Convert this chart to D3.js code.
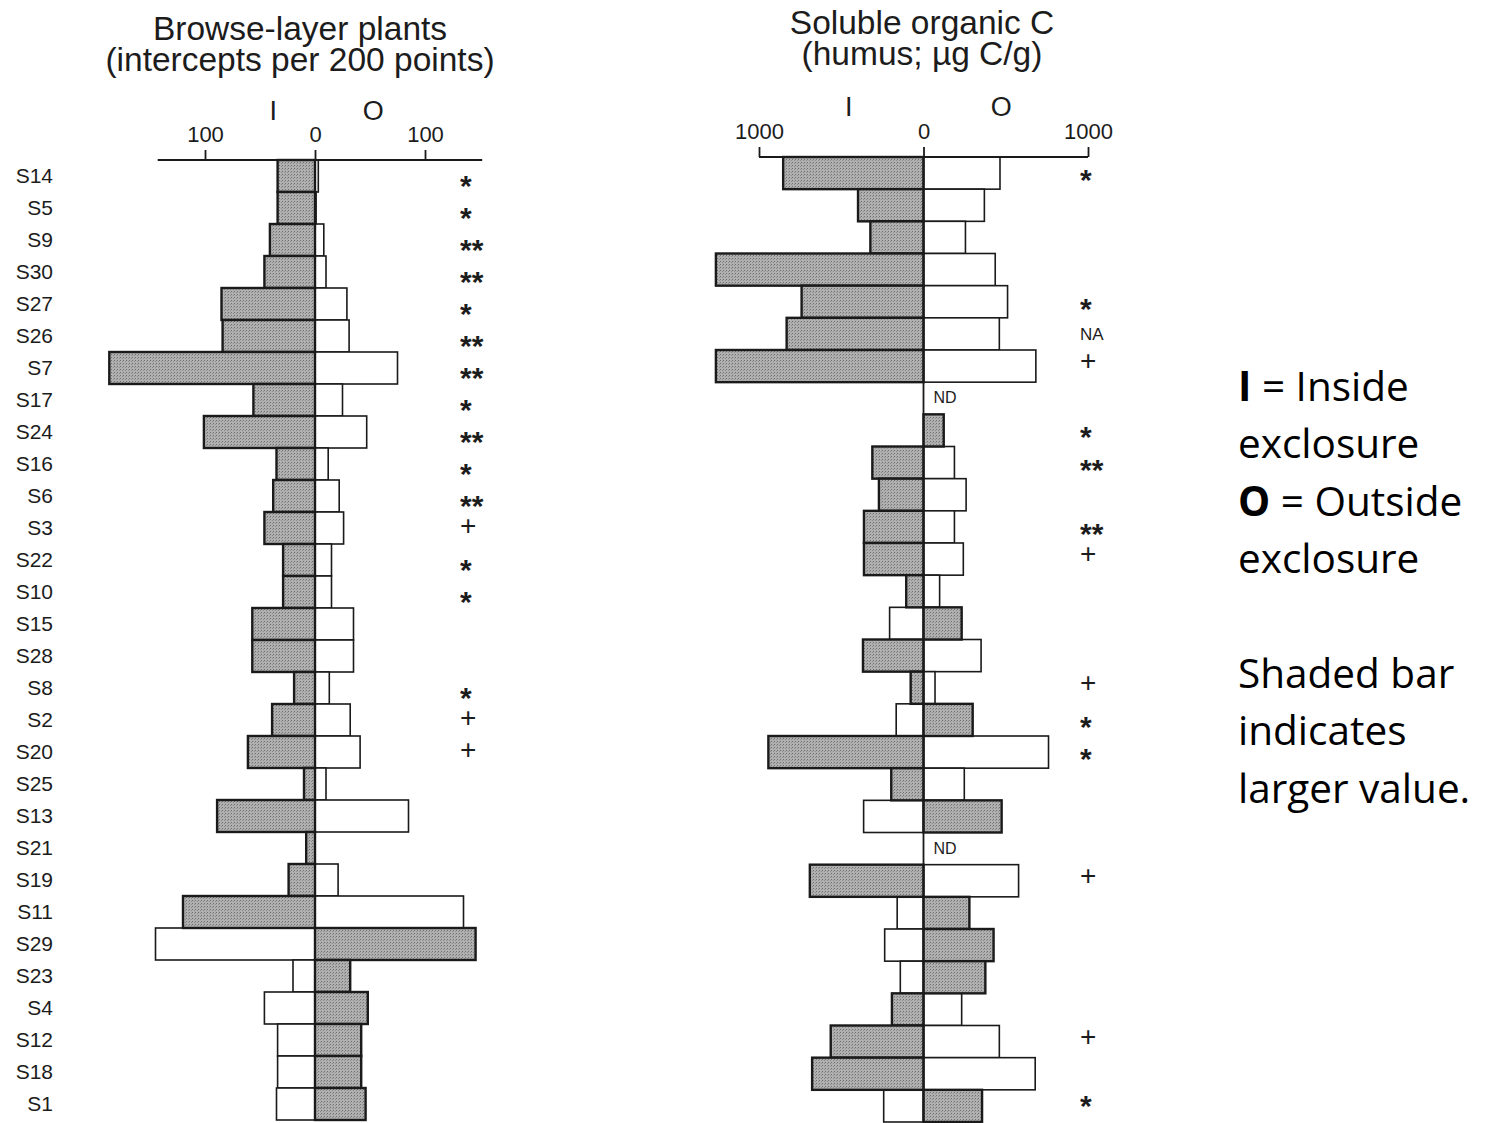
<!DOCTYPE html>
<html lang="en">
<head>
    <meta charset="UTF-8">
    <title>Exclosure comparison</title>
    <script src="https://d3js.org/d3.v7.min.js"></script>
    <style>
        body { margin: 0; background: #fff; }
        svg { display: block; }
        .lbl { font-family: "Liberation Sans", Arial, sans-serif; fill: #1c1c1c; }
        .legend { font-family: "Open Sans", sans-serif; fill: #000; }
    </style>
</head>
<body>
<svg id="chart" width="1490" height="1123"></svg>
<script>
    // Sites, top to bottom
    const sites = ["S14","S5","S9","S30","S27","S26","S7","S17","S24","S16",
                   "S6","S3","S22","S10","S15","S28","S8","S2","S20","S25",
                   "S13","S21","S19","S11","S29","S23","S4","S12","S18","S1"];

    // Browse-layer plants (intercepts per 200 points)
    const browseInside  = [34,34,41,46,85,84,187,56,101,35,38,46,29,29,57,57,19,39,61,10,89,8,24,120,145,20,46,34,34,35];
    const browseOutside = [3,1,8,10,29,31,75,25,47,12,22,26,15,15,35,35,13,32,41,10,85,0,21,135,146,32,48,42,42,46];
    const browseShaded  = ["I","I","I","I","I","I","I","I","I","I","I","I","I","I","I","I","I","I","I","I","I","I","I","I","O","O","O","O","O","O"];
    const browseMarks   = ["*","*","**","**","*","**","**","*","**","*","**","+","*","*","","","*","+","+","","","","","","","","","","",""];

    // Soluble organic C (humus; ug C/g); null = not determined
    const carbonInside  = [853,398,323,1262,741,832,1262,null,0,311,271,362,362,105,206,368,78,166,943,196,364,null,691,160,236,141,192,564,677,242];
    const carbonOutside = [465,370,255,436,511,461,683,null,123,188,259,188,242,98,232,350,70,299,760,248,475,null,578,279,426,376,232,461,679,356];
    const carbonShaded  = ["I","I","I","I","I","I","I",null,"O","I","I","I","I","I","O","I","I","O","I","I","O",null,"I","O","O","O","I","I","I","O"];
    const carbonMarks   = ["*","","","","*","NA","+","","*","**","","**","+","","","","+","*","*","","","","+","","","","","+","","*"];
    const carbonNotes   = ["","","","","","","","ND","","","","","","","","","","","","","","ND","","","","","","","",""];

    const browseTicks = [-100, 0, 100];
    const carbonTicks = [-1000, 0, 1000];

    const legendLines = [
        [["I", true], [" = Inside", false]],
        [["exclosure", false]],
        [["O", true], [" = Outside", false]],
        [["exclosure", false]],
        [],
        [["Shaded bar", false]],
        [["indicates", false]],
        [["larger value.", false]]
    ];

    const svg = d3.select("#chart");

    // halftone-ish fill for the shaded bars
    const defs = svg.append("defs");
    const pat = defs.append("pattern")
        .attr("id", "shade")
        .attr("width", 3).attr("height", 3)
        .attr("patternUnits", "userSpaceOnUse");
    pat.append("rect").attr("width", 3).attr("height", 3).attr("fill", "#b0b0b0");
    pat.append("rect").attr("width", 1).attr("height", 1).attr("fill", "#707070");
    pat.append("rect").attr("x", 2).attr("y", 1).attr("width", 1).attr("height", 1).attr("fill", "#8c8c8c");

    // row labels (shared by both panels)
    const rowY = d3.scaleBand().domain(sites).range([160, 1120]).padding(0);
    svg.append("g").selectAll("text")
        .data(sites)
        .join("text")
        .attr("class", "lbl")
        .attr("x", 53)
        .attr("y", d => rowY(d) + rowY.bandwidth() / 2 + 7)
        .attr("text-anchor", "end")
        .attr("font-size", "21px")
        .text(d => d);

    drawPanel({
        inside: browseInside, outside: browseOutside, shaded: browseShaded,
        marks: browseMarks, notes: null, ticks: browseTicks,
        domain: [-100, 100], range: [205, 425], axisY: 160, bottom: 1120,
        axisExtent: [-143, 152],
        title: ["Browse-layer plants", "(intercepts per 200 points)"], titleX: 300, titleY: [40, 71],
        headers: [-38, 53], headerY: 120, tickFont: 22,
        markX: 460, starDy: 20, plusDy: 7
    });

    drawPanel({
        inside: carbonInside, outside: carbonOutside, shaded: carbonShaded,
        marks: carbonMarks, notes: carbonNotes, ticks: carbonTicks,
        domain: [-1000, 1000], range: [759, 1088], axisY: 157, bottom: 1122,
        axisExtent: [-1000, 1000],
        title: ["Soluble organic C", "(humus; \u00b5g C/g)"], titleX: 922, titleY: [34, 65],
        headers: [-455, 473], headerY: 116, tickFont: 22,
        markX: 1080, starDy: 17, plusDy: 4
    });

    function drawPanel(cfg) {
        const x = d3.scaleLinear().domain(cfg.domain).range(cfg.range);
        const y = d3.scaleBand().domain(sites).range([cfg.axisY, cfg.bottom]).padding(0);
        const g = svg.append("g");

        const rows = sites.map((s, i) => ({
            site: s, inside: cfg.inside[i], outside: cfg.outside[i],
            shaded: cfg.shaded[i], mark: cfg.marks[i], note: cfg.notes ? cfg.notes[i] : ""
        }));

        // one rect per side; white ones first so the shaded outline sits on top
        const bars = [];
        rows.forEach(r => {
            if (r.inside === null) return;
            bars.push({ site: r.site, side: "I", v: r.inside, shaded: r.shaded === "I" });
            bars.push({ site: r.site, side: "O", v: r.outside, shaded: r.shaded === "O" });
        });
        const visible = bars.filter(b => b.v > 0).sort((a, b) => a.shaded - b.shaded);

        g.selectAll("rect.bar")
            .data(visible)
            .join("rect")
            .attr("class", "bar")
            .attr("x", d => d.side === "I" ? x(-d.v) : x(0))
            .attr("y", d => y(d.site))
            .attr("width", d => Math.abs(x(d.v) - x(0)))
            .attr("height", y.bandwidth())
            .attr("fill", d => d.shaded ? "url(#shade)" : "#fff")
            .attr("stroke", "#1a1a1a")
            .attr("stroke-width", d => d.shaded ? 2.4 : 1.6);

        // zero line
        g.append("line")
            .attr("x1", x(0)).attr("x2", x(0))
            .attr("y1", cfg.axisY).attr("y2", cfg.bottom)
            .attr("stroke", "#1a1a1a").attr("stroke-width", 1.8);

        // top axis
        const axis = g.append("g")
            .attr("transform", `translate(0, ${cfg.axisY})`)
            .call(d3.axisTop(x)
                .tickValues(cfg.ticks)
                .tickFormat(d => Math.abs(d))
                .tickSize(10)
                .tickPadding(8));
        axis.select(".domain").remove();
        axis.selectAll(".tick line").attr("stroke", "#1a1a1a").attr("stroke-width", 1.8);
        axis.selectAll(".tick text")
            .attr("class", "lbl")
            .attr("font-size", cfg.tickFont + "px");
        axis.append("line")
            .attr("x1", x(cfg.axisExtent[0])).attr("x2", x(cfg.axisExtent[1]))
            .attr("stroke", "#1a1a1a").attr("stroke-width", 1.8);

        // I / O headers
        g.selectAll("text.hdr")
            .data(["I", "O"])
            .join("text")
            .attr("class", "lbl hdr")
            .attr("x", (d, i) => x(cfg.headers[i]))
            .attr("y", cfg.headerY)
            .attr("text-anchor", "middle")
            .attr("font-size", "27px")
            .text(d => d);

        // title
        g.selectAll("text.title")
            .data(cfg.title)
            .join("text")
            .attr("class", "lbl title")
            .attr("x", cfg.titleX)
            .attr("y", (d, i) => cfg.titleY[i])
            .attr("text-anchor", "middle")
            .attr("font-size", "33.5px")
            .text(d => d);

        // significance marks (kept inside the picture at the bottom row)
        const markDy = d => d.mark.includes("*") ? cfg.starDy : (d.mark === "NA" ? 6 : cfg.plusDy);
        g.selectAll("text.mark")
            .data(rows.filter(r => r.mark))
            .join("text")
            .attr("class", "lbl mark")
            .attr("x", cfg.markX)
            .attr("y", d => Math.min(y(d.site) + y.bandwidth() / 2 + markDy(d), 1116))
            .attr("font-size", d => d.mark === "NA" ? "17px" : (d.mark.includes("*") ? "30px" : "28px"))
            .attr("font-weight", d => d.mark.includes("*") ? "bold" : null)
            .text(d => d.mark);

        // ND notes beside the zero line
        g.selectAll("text.note")
            .data(rows.filter(r => r.note))
            .join("text")
            .attr("class", "lbl note")
            .attr("x", x(0) + 10)
            .attr("y", d => y(d.site) + y.bandwidth() / 2 + 5)
            .attr("font-size", "16px")
            .text(d => d.note);
    }

    // legend text on the right
    const legend = svg.append("text")
        .attr("class", "legend")
        .attr("font-size", "40.5px");
    legendLines.forEach((parts, i) => {
        const line = legend.append("tspan")
            .attr("x", 1238)
            .attr("y", 401 + i * 57.4);
        if (parts.length === 0) line.text("\u00a0");
        parts.forEach(([txt, bold]) => {
            line.append("tspan")
                .attr("font-weight", bold ? "bold" : null)
                .text(txt);
        });
    });
</script>
</body>
</html>
